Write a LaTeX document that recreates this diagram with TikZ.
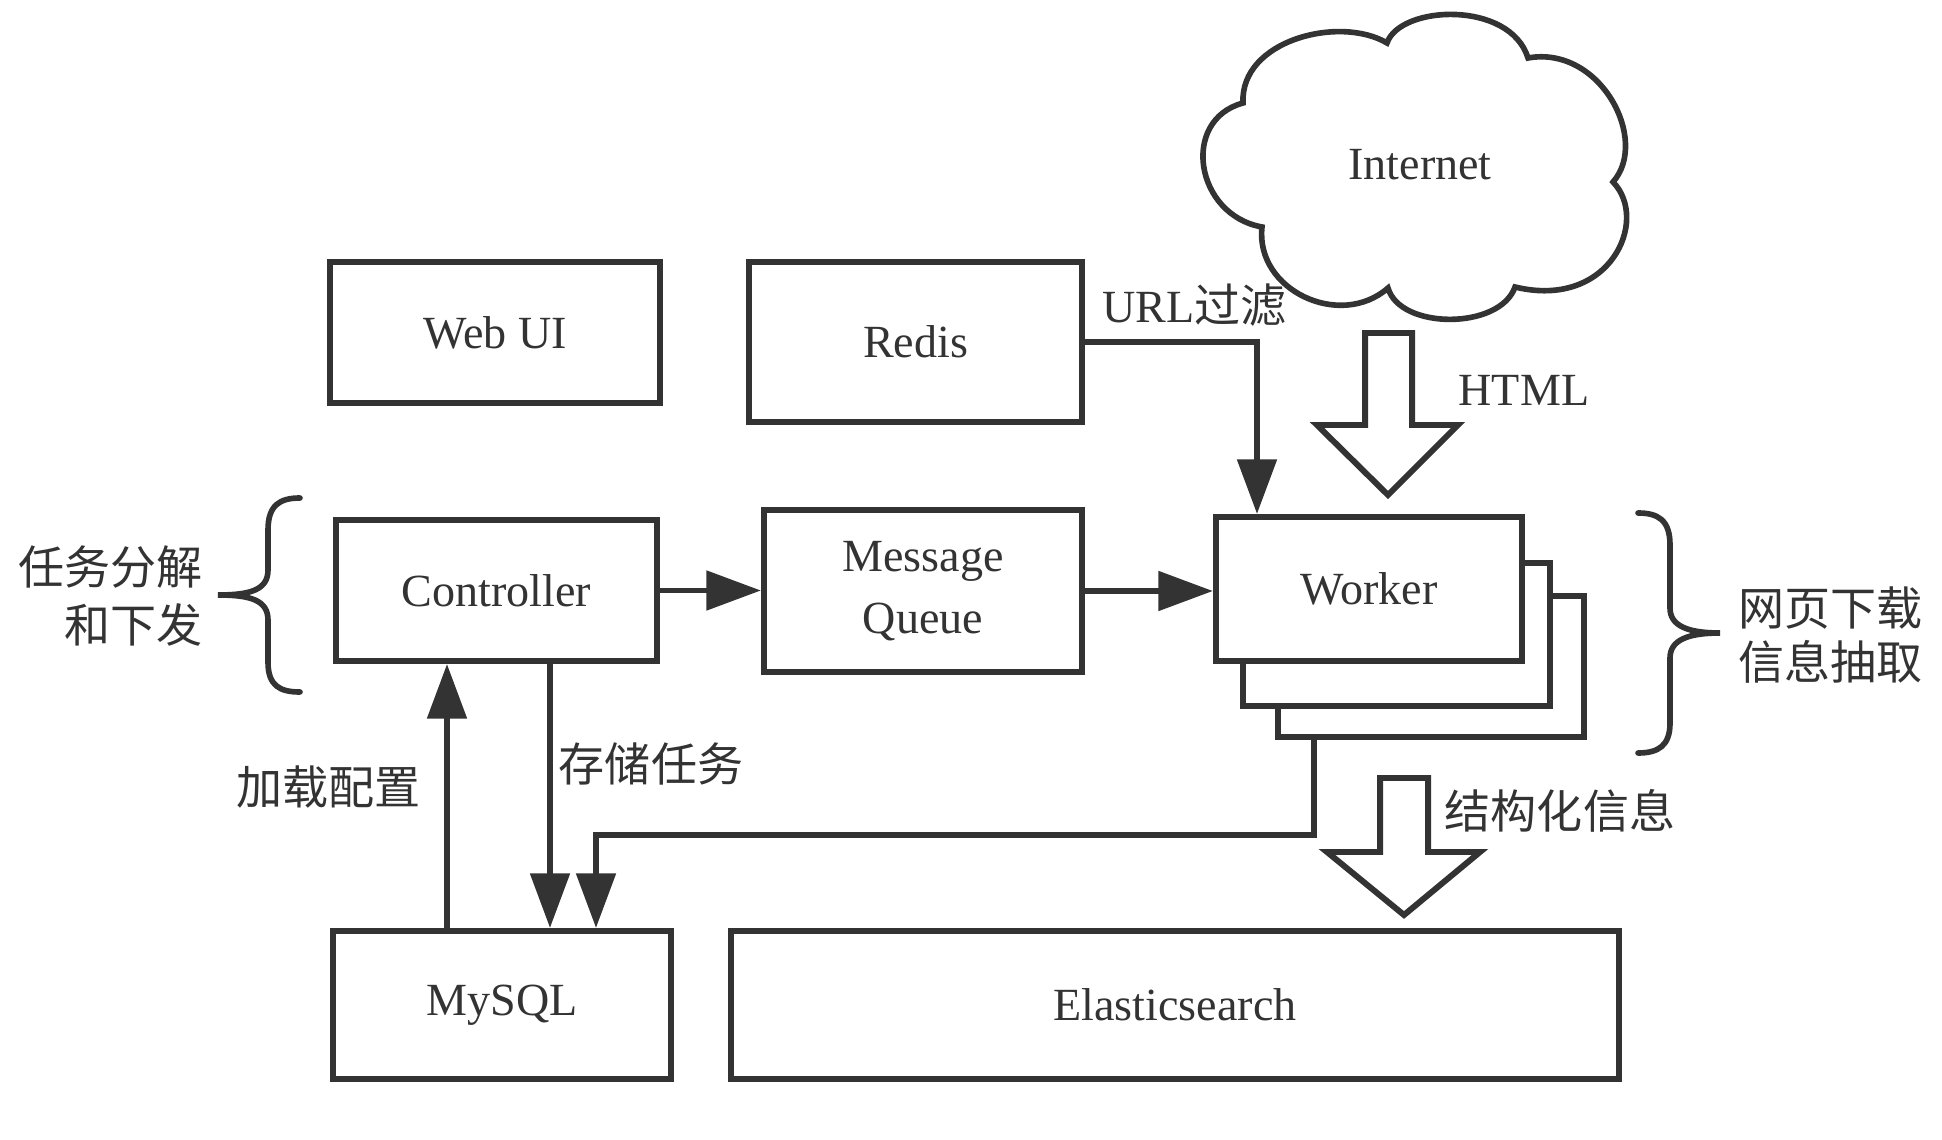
\documentclass[tikz,border=0pt]{standalone}
\usepackage{fontspec}
\setmainfont{Liberation Serif}
\newfontfamily\cjk{Noto Sans CJK SC}
\usetikzlibrary{arrows.meta}
\definecolor{ink}{HTML}{333333}
\begin{document}
\begin{tikzpicture}[x=0.01cm,y=-0.01cm,
  box/.style={draw=ink, line width=1.7pt, fill=white, inner sep=0pt, text=ink,
    font=\fontsize{13.1pt}{17.6pt}\selectfont, align=center},
  lbl/.style={inner sep=0pt, text=ink, font=\fontsize{13.1pt}{16pt}\selectfont},
  conn/.style={draw=ink, line width=1.7pt, -{Triangle[length=15.5pt,width=11pt]}},
  hollow/.style={draw=ink, line width=1.7pt, fill=white, line join=miter},
  bracepath/.style={draw=ink, line width=1.6pt, line cap=round}
]
\fill[white] (0,0) rectangle (1942,1140);
\useasboundingbox (0,0) rectangle (1942,1140);

% cloud
\draw[draw=ink, line width=1.6pt, fill=white]
  (1262,227) .. controls (1195,215) and (1180,120) .. (1243,103)
  .. controls (1240,40) and (1340,15) .. (1387,43)
  .. controls (1400,5) and (1510,0) .. (1528,58)
  .. controls (1600,45) and (1650,140) .. (1613,182)
  .. controls (1650,220) and (1610,310) .. (1515,287)
  .. controls (1500,330) and (1400,330) .. (1388,288)
  .. controls (1340,330) and (1255,290) .. (1262,227) -- cycle;
\node[lbl] (internet) at (1420,165) {Internet};

% boxes
\node[box, minimum width=3.30cm, minimum height=1.41cm] (webui) at (495,332.5) {Web UI};
\node[box, minimum width=3.33cm, minimum height=1.60cm] (redis) at (915.5,342) {Redis};
\node[box, minimum width=3.21cm, minimum height=1.41cm] (ctrl) at (496.5,590.5) {Controller};
\node[box, minimum width=3.18cm, minimum height=1.62cm] (mq) at (923,591) {Message\\Queue};
\node[box, minimum width=3.06cm, minimum height=1.41cm] (wk3) at (1431,666.5) {};
\node[box, minimum width=3.07cm, minimum height=1.43cm] (wk2) at (1396.5,634.5) {};
\node[box, minimum width=3.06cm, minimum height=1.44cm] (wk1) at (1369,589) {Worker};
\node[box, minimum width=3.38cm, minimum height=1.48cm] (mysql) at (502,1005) {MySQL};
\node[box, minimum width=8.88cm, minimum height=1.48cm] (es) at (1175,1005) {Elasticsearch};

% helper coordinates
\coordinate (rw) at (1257,342);
\coordinate (cx1) at (447,0);
\coordinate (cx2) at (550,0);
\coordinate (cx3) at (1313.5,0);
\coordinate (cx4) at (596,0);
\coordinate (yret) at (0,835);

% connectors
\draw[conn] (ctrl.east) -- (ctrl.east -| mq.west);
\draw[conn] (mq.east) -- (mq.east -| wk1.west);
\draw[conn] (redis.east) -- (rw) -- (rw |- wk1.north);
\draw[conn] (mysql.north -| cx1) -- (ctrl.south -| cx1);
\draw[conn] (ctrl.south -| cx2) -- (mysql.north -| cx2);
\draw[conn] (wk3.south -| cx3) -- (yret -| cx3) -- (yret -| cx4) -- (mysql.north -| cx4);

% hollow arrows
\draw[hollow] (1365,333) -- (1412,333) -- (1412,425) -- (1458,425) -- (1388,495)
  -- (1317,425) -- (1365,425) -- cycle;
\draw[hollow] (1380,778) -- (1428,778) -- (1428,852) -- (1480,852) -- (1404,915)
  -- (1327,852) -- (1380,852) -- cycle;

% braces
\draw[bracepath] (300,498) .. controls (280,498) and (268,505) .. (268,530) -- (268,570)
  .. controls (268,590) and (250,595) .. (218,595)
  .. controls (250,595) and (268,600) .. (268,620) -- (268,662)
  .. controls (268,686) and (280,692) .. (300,692);
\draw[bracepath] (1638,513) .. controls (1658,513) and (1670,520) .. (1670,545) -- (1670,608)
  .. controls (1670,626) and (1688,633) .. (1720,633)
  .. controls (1688,633) and (1670,640) .. (1670,658) -- (1670,723)
  .. controls (1670,746) and (1658,753) .. (1638,753);

% labels
\node[lbl, anchor=base west] (lurl) at (1102,323) {URL{\cjk 过滤}};
\node[lbl, anchor=west] (lhtml) at (1458,390) {HTML};
\node[lbl] (lstore) at (651,764) {\cjk 存储任务};
\node[lbl] (lload) at (328.5,787) {\cjk 加载配置};
\node[lbl] (lstruct) at (1560,811) {\cjk 结构化信息};
\node[lbl, align=right, anchor=east, font=\fontsize{13.1pt}{16.5pt}\selectfont] (ltask) at (203,596) {\cjk 任务分解\\\cjk 和下发};
\node[lbl, align=left, anchor=west, font=\fontsize{13.1pt}{15.6pt}\selectfont] (lweb) at (1738,635) {\cjk 网页下载\\\cjk 信息抽取};
\end{tikzpicture}
\end{document}
